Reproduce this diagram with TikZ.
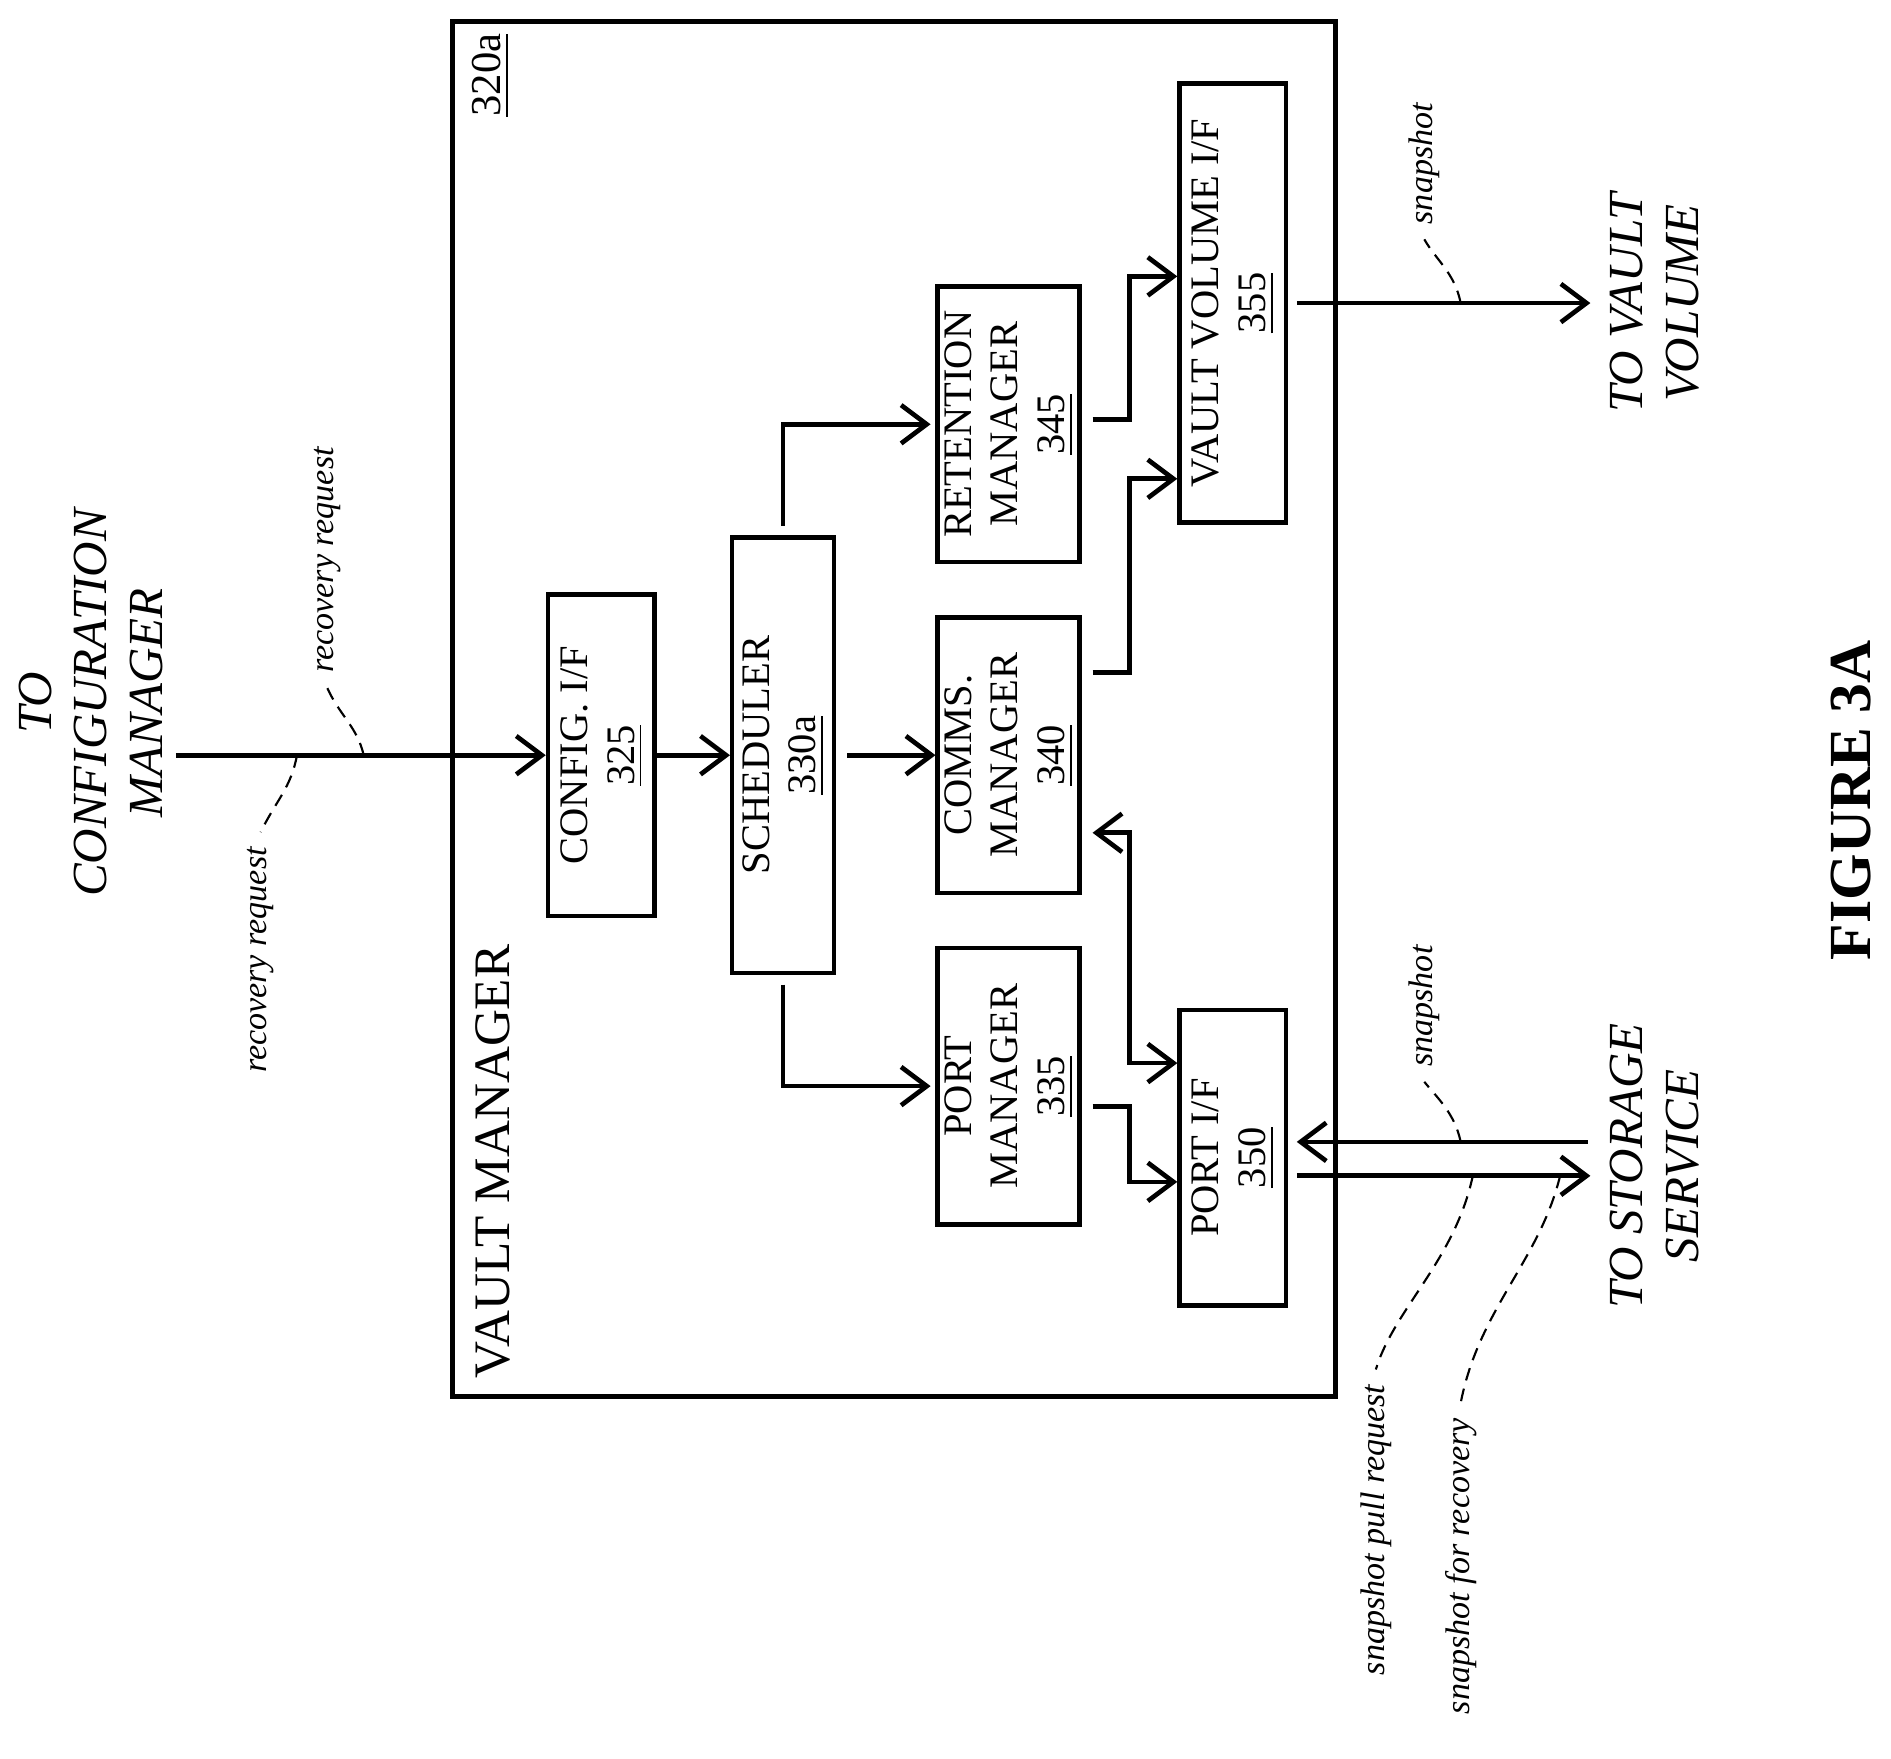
\documentclass[tikz,border=0pt]{standalone}
\usepackage{fontspec}
\setmainfont{Liberation Serif}
\usetikzlibrary{arrows.meta,positioning,calc}

\newcommand{\rtxt}[1]{\rotatebox{90}{\begin{tabular}{@{}c@{}}#1\end{tabular}}}
\tikzset{
  blk/.style={draw,line width=1pt,inner sep=0pt,align=center,font=\fontsize{9.5}{11}\selectfont},
  flow/.style={line width=1.1pt,-{Straight Barb[length=6pt,width=9pt]}},
  lbl/.style={rotate=90,font=\fontsize{8}{9}\selectfont\itshape},
  lead/.style={densely dashed,line width=0.5pt},
  ext/.style={rotate=90,align=center,font=\fontsize{11.5}{13}\selectfont\itshape}
}

\begin{document}
\begin{tikzpicture}[x=0.01cm,y=-0.01cm]
\useasboundingbox (0,0) rectangle (1560,1451);

% outer box
\draw[line width=1.2pt] (373,18) rectangle (1102,1152);
\node[rotate=90,font=\fontsize{10}{12}\selectfont] (ref) at (405,62) {\underline{320a}};
\node[rotate=90,font=\fontsize{12}{14}\selectfont] (vm) at (407,958) {VAULT MANAGER};

% blocks
\node[blk,minimum width=0.88cm,minimum height=2.65cm] (cfg) at (496,623) {\rtxt{CONFIG. I/F\\\underline{325}}};
\node[blk,minimum width=0.84cm,minimum height=3.59cm] (sch) at (646,623) {\rtxt{SCHEDULER\\\underline{330a}}};
\node[blk,minimum width=1.17cm,minimum height=2.27cm] (ret) at (832,350) {\rtxt{RETENTION\\MANAGER\\\underline{345}}};
\node[blk,minimum width=1.17cm,minimum height=2.27cm] (com) at (832,623) {\rtxt{COMMS.\\MANAGER\\\underline{340}}};
\node[blk,minimum width=1.17cm,minimum height=2.28cm] (prt) at (832,896) {\rtxt{PORT\\MANAGER\\\underline{335}}};
\node[blk,minimum width=0.88cm,minimum height=3.62cm] (vvi) at (1017,250) {\rtxt{VAULT VOLUME I/F\\\underline{355}}};
\node[blk,minimum width=0.88cm,minimum height=2.44cm] (pif) at (1017,955) {\rtxt{PORT I/F\\\underline{350}}};

% external ends
\node[ext] (tcm) at (75,580) {TO\\CONFIGURATION\\MANAGER};
\node[ext] (tvv) at (1365,250) {TO VAULT\\VOLUME};
\node[ext] (tss) at (1365,962) {TO STORAGE\\SERVICE};
\node[rotate=90,font=\fontsize{14}{16}\selectfont\bfseries] (fig) at (1527,660) {FIGURE 3A};
\coordinate (cin) at (145,623);
\coordinate (vout) at (1312,250);
\coordinate (sin) at (1310,942);
\coordinate (sout) at (1312,970);

% connectors
\draw[flow] (cin) -- (cfg.west);
\draw[flow] (cfg.east) -- (sch.west);
\draw[flow] ([xshift=0.09cm]sch.east) -- (com.west);
\draw[flow] ([yshift=0.08cm]sch.north) -- (646,350) -- ([xshift=-0.04cm]ret.west);
\draw[flow] ([yshift=-0.08cm]sch.south) -- (646,896) -- ([xshift=-0.04cm]prt.west);
\draw[flow] ([xshift=0.09cm]ret.east |- 0,346) -| (932,228) -- (vvi.west |- 0,228);
\draw[flow] ([xshift=0.09cm]com.east |- 0,555) -| (932,395) -- (vvi.west |- 0,395);
\draw[flow] ([xshift=0.09cm]prt.east |- 0,913) -| (932,975) -- (pif.west |- 0,975);
\draw[flow,{Straight Barb[length=6pt,width=9pt]}-{Straight Barb[length=6pt,width=9pt]}] ([xshift=0.09cm]com.east |- 0,687) -| (932,877) -- (pif.west |- 0,877);
\draw[flow] ([xshift=0.07cm]vvi.east) -- (vout);
\draw[flow] (sin) -- ([xshift=0.07cm]pif.east |- 0,942);
\draw[flow] ([xshift=0.07cm]pif.east |- 0,970) -- (sout);

% labels
\node[lbl] (rr1) at (215,792) {recovery request};
\draw[lead] (245,623) .. controls (240,650) and (228,660) .. (rr1.east);
\node[lbl] (rr2) at (270,462) {recovery request};
\draw[lead] (300,623) .. controls (295,600) and (280,590) .. (rr2.west);
\node[lbl] (sn1) at (1175,135) {snapshot};
\draw[lead] (1205,250) .. controls (1200,225) and (1185,215) .. (sn1.west);
\node[lbl] (sn2) at (1175,830) {snapshot};
\draw[lead] (1205,942) .. controls (1200,918) and (1185,905) .. (sn2.west);
\node[lbl] (spr) at (1135,1262) {snapshot pull request};
\draw[lead] (1215,970) .. controls (1200,1040) and (1150,1080) .. (spr.east);
\node[lbl] (sfr) at (1205,1292) {snapshot for recovery};
\draw[lead] (1287,970) .. controls (1270,1040) and (1220,1080) .. (sfr.east);
\end{tikzpicture}
\end{document}
